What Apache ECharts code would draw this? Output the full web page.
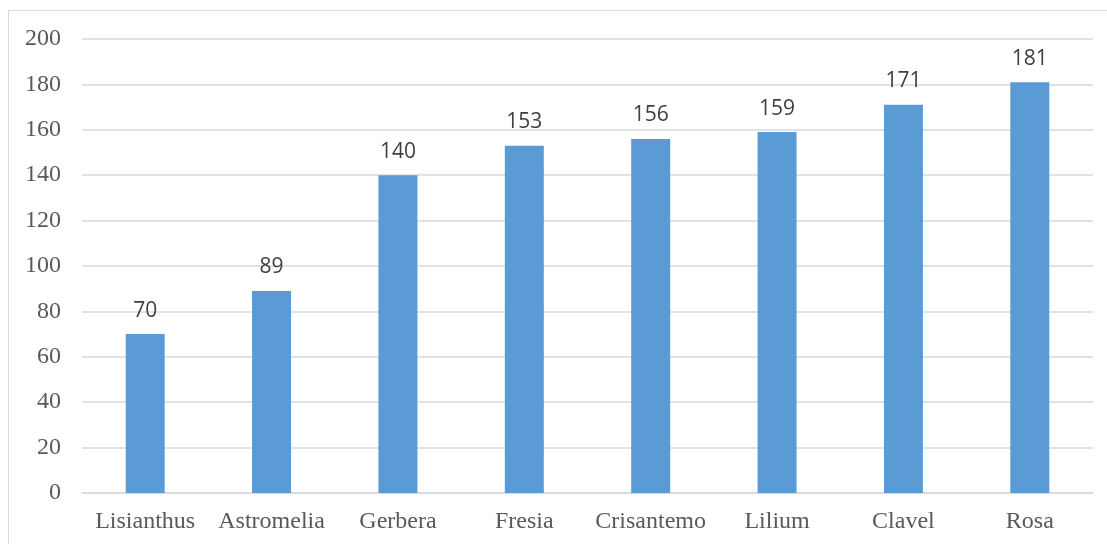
<!DOCTYPE html>
<html>
<head>
<meta charset="utf-8">
<script src="https://cdn.jsdelivr.net/npm/echarts@6/dist/echarts.min.js"></script>
<style>
    html, body { margin: 0; padding: 0; background: #fff; }
    #frame {
        position: absolute; left: 8px; top: 10px; width: 1200px; height: 600px;
        border-left: 1.5px solid #d9d9d9; border-top: 1.5px solid #d9d9d9;
    }
    #chart { position: absolute; left: 0; top: 0; width: 1107px; height: 544px; }
</style>
</head>
<body>
<div id="frame"></div>
<div id="chart"></div>
<script>
// categorías y valores
const flores = ['Lisianthus', 'Astromelia', 'Gerbera', 'Fresia', 'Crisantemo', 'Lilium', 'Clavel', 'Rosa']
const valores = [70, 89, 140, 153, 156, 159, 171, 181]

const myChart = echarts.init(document.getElementById('chart'))

myChart.setOption({
    animation: false,
    grid: { left: 82, right: 14, top: 39, bottom: 51 },
    xAxis: {
        type: 'category',
        data: flores,
        axisLine: { lineStyle: { color: '#d9d9d9', width: 1.5 } },
        axisTick: { show: false },
        axisLabel: {
            interval: 0,
            color: '#595959',
            fontFamily: 'Liberation Serif',
            fontSize: 24,
            margin: 17,
        },
    },
    yAxis: {
        type: 'value',
        min: 0,
        max: 200,
        interval: 20,
        axisLine: { show: false },
        axisTick: { show: false },
        splitLine: { lineStyle: { color: '#d9d9d9', width: 1.5 } },
        axisLabel: {
            color: '#595959',
            fontFamily: 'Liberation Serif',
            fontSize: 24,
            margin: 21,
        },
    },
    series: [
        {
            type: 'bar',
            data: valores,
            barWidth: 39,
            itemStyle: { color: '#5b9bd5' },
            label: {
                show: true,
                position: 'top',
                distance: 13,
                color: '#404040',
                fontFamily: 'Open Sans',
                fontSize: 21,
            },
        },
    ],
})
</script>
</body>
</html>
